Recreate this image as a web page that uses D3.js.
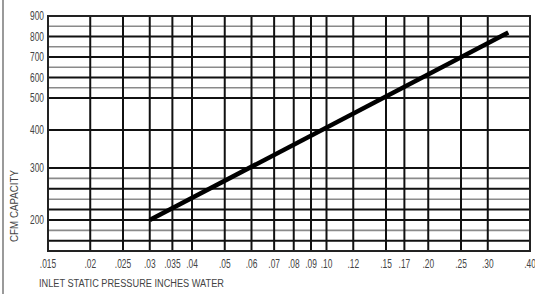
<!DOCTYPE html>
<html>
<head>
<meta charset="utf-8">
<script src="https://cdn.jsdelivr.net/npm/d3@7"></script>
<style>
body { margin: 0; background: #fff; }
text { font-family: "Liberation Sans Narrow", "Arial Narrow", "Liberation Sans", sans-serif; fill: #444; }
</style>
</head>
<body>
<script>
// pressure (inches water) grid / tick values
var xTicks = [.015, .02, .025, .03, .035, .04, .05, .06, .07, .08, .09, .10, .12, .15, .17, .20, .25, .30, .40];
var xLabels = [".015", ".02", ".025", ".03", ".035", ".04", ".05", ".06", ".07", ".08", ".09", ".10", ".12", ".15", ".17", ".20", ".25", ".30", ".40"];
// cfm grid / tick values
var yTicks = [200, 300, 400, 500, 600, 700, 800, 900];
var yGridDark = [180, 200, 220, 260, 300, 400, 500, 600, 700, 800, 900];
var yGridLight = [190, 240, 280, 550, 650, 750, 850];
// capacity curve
var curve = [{p: .03, cfm: 200}, {p: .345, cfm: 820}];

var width = 535, height = 294;
var mLeft = 48, mRight = 530, mTop = 16, mBottom = 251;
var narrow = 0.7; // squeeze for the condensed type look

var svg = d3.select("body").append("svg")
    .attr("width", width)
    .attr("height", height);

var x = d3.scaleLog().domain([.015, .40]).range([mLeft, mRight]);
// chart paper is not a true log scale on this axis, so break it up
var y = d3.scaleLinear()
    .domain([170, 200, 300, 400, 500, 900])
    .range([mBottom, 220, 168, 130, 98, mTop]);

// page edge line
svg.append("line")
    .attr("x1", 3).attr("x2", 3)
    .attr("y1", 0).attr("y2", height)
    .attr("stroke", "#9a9a9a")
    .attr("stroke-width", 2);

// light horizontals
svg.selectAll(".hlight").data(yGridLight).enter().append("line")
    .attr("class", "hlight")
    .attr("x1", mLeft).attr("x2", mRight)
    .attr("y1", d => y(d)).attr("y2", d => y(d))
    .attr("stroke", "#8a8a8a")
    .attr("stroke-width", 1.6);

// dark horizontals
svg.selectAll(".hdark").data(yGridDark).enter().append("line")
    .attr("class", "hdark")
    .attr("x1", mLeft).attr("x2", mRight)
    .attr("y1", d => y(d)).attr("y2", d => y(d))
    .attr("stroke", "#111")
    .attr("stroke-width", 2);

// verticals
svg.selectAll(".vline").data(xTicks).enter().append("line")
    .attr("class", "vline")
    .attr("x1", d => x(d)).attr("x2", d => x(d))
    .attr("y1", mTop).attr("y2", mBottom)
    .attr("stroke", "#111")
    .attr("stroke-width", 2);

// frame
svg.append("rect")
    .attr("x", mLeft).attr("y", mTop)
    .attr("width", mRight - mLeft).attr("height", mBottom - mTop)
    .attr("fill", "none")
    .attr("stroke", "#222")
    .attr("stroke-width", 2);

// x labels
svg.selectAll(".xlab").data(xTicks).enter().append("text")
    .attr("class", "xlab")
    .attr("transform", d => "translate(" + x(d) + ",268) scale(" + narrow + ",1)")
    .attr("text-anchor", "middle")
    .style("font-size", "12px")
    .text((d, i) => xLabels[i]);

// y labels
svg.selectAll(".ylab").data(yTicks).enter().append("text")
    .attr("class", "ylab")
    .attr("transform", d => "translate(" + (mLeft - 4) + "," + (y(d) + 4) + ") scale(" + narrow + ",1)")
    .attr("text-anchor", "end")
    .style("font-size", "12px")
    .text(d => d);

// axis titles
svg.append("text")
    .attr("transform", "translate(39,287) scale(0.8,1)")
    .style("font-size", "11.5px")
    .text("INLET STATIC PRESSURE INCHES WATER");

svg.append("text")
    .attr("transform", "translate(18,206) rotate(-90) scale(0.85,1)")
    .attr("text-anchor", "middle")
    .style("font-size", "11.5px")
    .text("CFM CAPACITY");

// capacity line
var line = d3.line().x(d => x(d.p)).y(d => y(d.cfm));
svg.append("path")
    .datum(curve)
    .attr("d", line)
    .attr("fill", "none")
    .attr("stroke", "#000")
    .attr("stroke-width", 4.5);
</script>
</body>
</html>
